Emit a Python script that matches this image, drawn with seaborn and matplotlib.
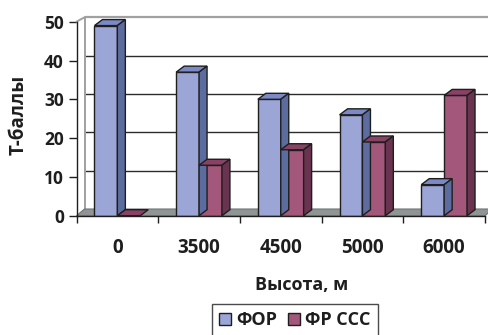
import numpy as np
import pandas as pd
import matplotlib
matplotlib.use("Agg")
import matplotlib.pyplot as plt
from matplotlib.patches import Polygon, Patch
import seaborn as sns

# Data
heights = ["0", "3500", "4500", "5000", "6000"]
series_names = ["ФОР", "ФР ССС"]
values_for = [49, 37, 30, 26, 8]
values_fr_ccc = [0, 13, 17, 19, 31]
y_ticks = [0, 10, 20, 30, 40, 50]

front_colors = {"ФОР": "#9BA6D6", "ФР ССС": "#A3577B"}
top_colors = {"ФОР": "#7B8AC6", "ФР ССС": "#8A4166"}
side_colors = {"ФОР": "#5D6C9E", "ФР ССС": "#6A3450"}

df = pd.DataFrame({
    "Высота": heights * 2,
    "Т-баллы": values_for + values_fr_ccc,
    "series": [series_names[0]] * len(heights) + [series_names[1]] * len(heights),
})

sns.set_style("white")
plt.rcParams["font.family"] = ["Open Sans", "DejaVu Sans"]
plt.rcParams["font.weight"] = "bold"

W, H = 488, 335
fig = plt.figure(figsize=(W / 100, H / 100), dpi=100)
ax_left, ax_right, ax_bottom, ax_top = 76.5, 485, 215.7, 21.7
ax = fig.add_axes([ax_left / W, (H - ax_bottom) / H,
                   (ax_right - ax_left) / W, (ax_bottom - ax_top) / H])

n = len(heights)
ax.set_xlim(-0.5, n - 0.5)
ax.set_ylim(0, 50)

# pixel -> data conversions for the pseudo-3D depth
px_x = (ax_right - ax_left) / n
px_y = (ax_bottom - ax_top) / 50.0
bar_dx, bar_dy = 8 / px_x, 6 / px_y
wall_dx, wall_dy = 8 / px_x, 6.7 / px_y
wall_k = (209 - 17.3) / 194.0

# floor
floor = Polygon([(-0.5, 0), (n - 0.5, 0), (n - 0.5 + wall_dx, wall_dy), (-0.5 + wall_dx, wall_dy)],
                closed=True, facecolor="#8F9494", edgecolor="#6F7474", lw=0.8,
                clip_on=False, zorder=1)
ax.add_patch(floor)

# back-wall gridlines
for v in y_ticks[1:]:
    yb = v * wall_k + wall_dy
    col, lw = ("#A0A0A0", 1.6) if v == y_ticks[-1] else ("#2B2B2B", 1.0)
    ax.plot([-0.5 + wall_dx, n - 0.5 + 2 * wall_dx], [yb, yb], color=col, lw=lw,
            clip_on=False, zorder=0.5, solid_capstyle="butt")
# left wall edges
top_b = y_ticks[-1] * wall_k + wall_dy
ax.plot([-0.5 + wall_dx, -0.5 + wall_dx], [wall_dy, top_b], color="#A0A0A0", lw=1.4,
        clip_on=False, zorder=0.6)
ax.plot([-0.5, -0.5 + wall_dx], [50, top_b], color="#A0A0A0", lw=1.4, clip_on=False, zorder=0.6)

sns.barplot(data=df, x="Высота", y="Т-баллы", hue="series", order=heights,
            hue_order=series_names, palette=front_colors, width=0.56,
            edgecolor="#1E1E1E", linewidth=1.0, saturation=1, legend=False,
            ax=ax, zorder=3)

# add top and side faces to every bar
for container, name in zip(ax.containers, series_names):
    for rect in container:
        x0 = rect.get_x()
        x1 = x0 + rect.get_width()
        h = rect.get_height()
        top = Polygon([(x0, h), (x0 + bar_dx, h + bar_dy), (x1 + bar_dx, h + bar_dy), (x1, h)],
                      closed=True, facecolor=top_colors[name], edgecolor="#1E1E1E",
                      lw=1.0, clip_on=False, zorder=3)
        ax.add_patch(top)
        if h > 0:
            side = Polygon([(x1, 0), (x1 + bar_dx, bar_dy), (x1 + bar_dx, h + bar_dy), (x1, h)],
                           closed=True, facecolor=side_colors[name], edgecolor="#1E1E1E",
                           lw=1.0, clip_on=False, zorder=3)
            ax.add_patch(side)

for s in ["top", "right"]:
    ax.spines[s].set_visible(False)
for s in ["left", "bottom"]:
    ax.spines[s].set_color("#1E1E1E")
    ax.spines[s].set_linewidth(1.0)
    ax.spines[s].set_zorder(4)

ax.set_yticks(y_ticks)
ax.set_yticklabels([str(t) for t in y_ticks], fontsize=12.5, fontweight="bold", color="#1E1E1E")
ax.tick_params(axis="y", direction="out", length=6, width=1, color="#1E1E1E", pad=3, left=True)
ax.set_xticks(range(n))
ax.set_xticklabels(heights, fontsize=13.5, fontweight="bold", color="#1E1E1E")
ax.tick_params(axis="x", which="major", length=0, pad=16)
ax.set_xticks(np.arange(-0.5, n, 1.0), minor=True)
ax.tick_params(axis="x", which="minor", direction="out", length=5, width=1,
               color="#1E1E1E", bottom=True)
ax.set_xlabel("")
ax.set_ylabel("")
ax.grid(False)

fig.text(19 / W, 1 - 115 / H, "Т-баллы", rotation=90, ha="center", va="center",
         fontsize=13.5, fontweight="bold", color="#1E1E1E")
fig.text(302 / W, 1 - 285 / H, "Высота, м", ha="center", va="center",
         fontsize=13, fontweight="bold", color="#1E1E1E")

handles = [Patch(facecolor=front_colors[s], edgecolor="#1E1E1E", lw=1.0, label=s)
           for s in series_names]
leg = fig.legend(handles=handles, loc="upper left", bbox_to_anchor=(212 / W, 1 - 304 / H),
                 ncol=2, frameon=True, fontsize=13, handlelength=0.65, handleheight=0.65,
                 handletextpad=0.3, columnspacing=0.6, borderpad=0.4, fancybox=False,
                 borderaxespad=0)
leg.get_frame().set_edgecolor("#1E1E1E")
leg.get_frame().set_linewidth(1.0)
for t in leg.get_texts():
    t.set_fontweight("bold")
    t.set_color("#1E1E1E")

fig.savefig("out.png", dpi=100)
